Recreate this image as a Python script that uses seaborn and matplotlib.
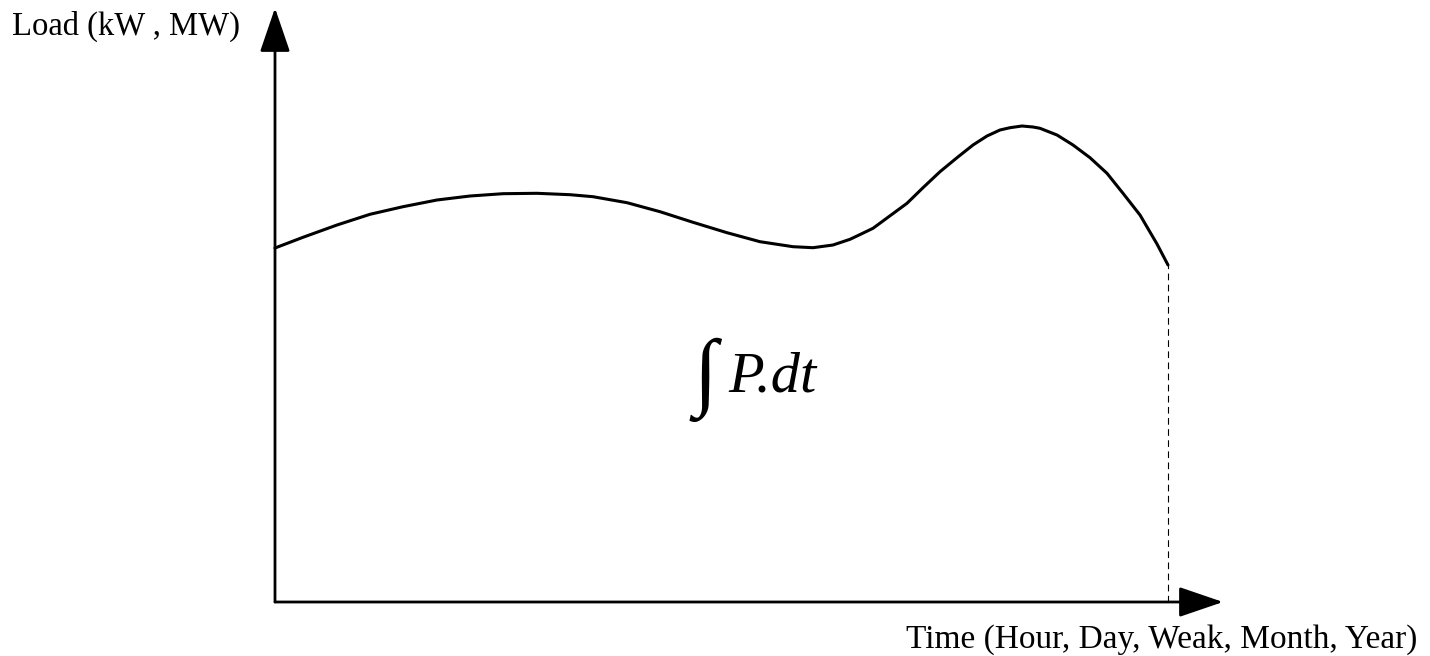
import numpy as np
import pandas as pd
import matplotlib
matplotlib.use("Agg")
import matplotlib.pyplot as plt
import seaborn as sns

# load curve (time from origin, load above the time axis)
time_pts = [0, 28, 62, 95, 128, 162, 195, 228, 262, 295, 318, 352, 385, 418,
            452, 485, 518, 538, 558, 575, 582, 598, 632, 648, 665, 682, 698,
            712, 725, 735, 747, 758, 765, 782, 798, 815, 832, 848, 865, 882, 893]
load_pts = [354, 364.7, 377, 387.7, 395.3, 402, 406, 408.3, 408.7, 407.3,
            405.3, 399.3, 390.3, 379.7, 369.3, 360.3, 355.3, 354.3, 357, 362.7,
            366, 373.7, 398.7, 414.3, 430.3, 444.3, 457, 466, 472, 474.3, 476,
            475, 473.7, 467, 457, 444.3, 428.7, 408.7, 387, 358, 337]

y_label = "Load (kW , MW)"
x_label = "Time (Hour, Day, Weak, Month, Year)"
area_label = "P.dt"

sns.set_theme(style="white")
plt.rcParams['font.family'] = ['Liberation Serif', 'DejaVu Serif']
plt.rcParams['text.color'] = 'black'

df = pd.DataFrame({"time": time_pts, "load": load_pts})

fig = plt.figure(figsize=(14.3, 6.56), dpi=100)
ax = fig.add_axes([0, 0, 1, 1])
ax.set_xlim(-275, 1155)
ax.set_ylim(-54, 602)
ax.set_axis_off()

# the load curve
sns.lineplot(data=df, x="time", y="load", ax=ax, color="black", linewidth=2.2,
             sort=False, estimator=None)
ax.lines[-1].set_solid_joinstyle("round")

# dashed drop line at the end of the period
t_end = time_pts[-1]
ax.plot([t_end, t_end], [0, load_pts[-1]], color="black", lw=0.8,
        linestyle=(0, (6, 4)))

# axes with arrow heads
arrow = dict(arrowstyle="-|>,head_length=27.5,head_width=9.4", color="black",
             lw=2.0, shrinkA=0, shrinkB=0, mutation_scale=1)
ax.annotate("", xy=(0, 594), xytext=(0, 0), arrowprops=arrow)
ax.annotate("", xy=(948, 0), xytext=(0, 0), arrowprops=arrow)

# labels
ax.text(-263, 567, y_label, fontsize=23.5, ha="left", va="baseline", color="black")
ax.text(1142, -46, x_label, fontsize=24, ha="right", va="baseline", color="black")

# integral of P dt
ax.text(430, 222, "\u222b", fontsize=62, ha="center", va="center", color="black")
ax.text(453, 210, area_label, fontsize=42, style="italic", ha="left",
        va="baseline", color="black")

plt.savefig("out.png", dpi=100)
plt.close()
